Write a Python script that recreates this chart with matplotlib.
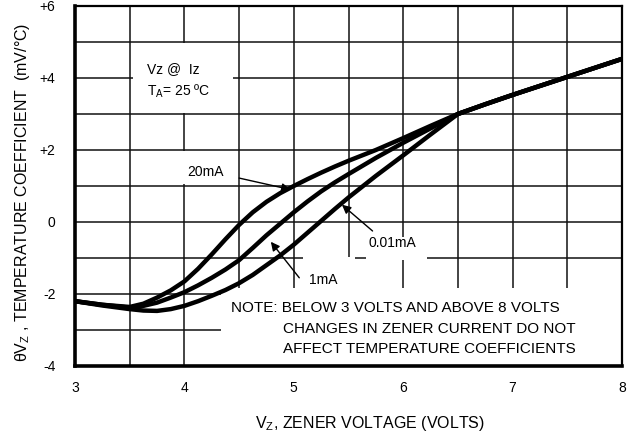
import matplotlib
matplotlib.use("Agg")
import matplotlib.pyplot as plt
from matplotlib.patches import Rectangle
from matplotlib.ticker import MultipleLocator

plt.rcParams['font.family'] = ['Liberation Sans', 'DejaVu Sans']
plt.rcParams['mathtext.fontset'] = 'custom'
plt.rcParams['mathtext.rm'] = 'Liberation Sans'

# zener voltage (V)
vz = [3.0, 3.25, 3.5, 3.625, 3.75, 3.875, 4.0, 4.125, 4.25, 4.375, 4.5, 4.625,
      4.75, 4.875, 5.0, 5.125, 5.25, 5.375, 5.5, 5.75, 6.0, 6.25, 6.5,
      6.75, 7.0, 7.25, 7.5, 7.75, 8.0]

# temperature coefficient (mV/°C) for each zener current
tc_20ma = [-2.2, -2.3, -2.36, -2.27, -2.1, -1.9, -1.65, -1.3, -0.9, -0.48, -0.08, 0.27,
           0.56, 0.8, 1.0, 1.19, 1.37, 1.54, 1.7, 2.0, 2.33, 2.67, 3.0,
           3.27, 3.53, 3.78, 4.03, 4.28, 4.53]
tc_1ma = [-2.2, -2.3, -2.38, -2.33, -2.24, -2.1, -1.95, -1.76, -1.55, -1.32, -1.06, -0.72,
          -0.37, -0.05, 0.27, 0.57, 0.85, 1.1, 1.33, 1.78, 2.2, 2.6, 3.0,
          3.27, 3.53, 3.78, 4.03, 4.28, 4.53]
tc_001ma = [-2.2, -2.32, -2.42, -2.46, -2.47, -2.42, -2.33, -2.2, -2.05, -1.89, -1.7, -1.47,
            -1.2, -0.93, -0.63, -0.3, 0.03, 0.36, 0.68, 1.28, 1.85, 2.43, 3.0,
            3.27, 3.53, 3.78, 4.03, 4.28, 4.53]

xticks = [3, 4, 5, 6, 7, 8]
yticks = [-4, -2, 0, 2, 4, 6]
ytick_labels = ['-4', '-2', '0', '+2', '+4', '+6']

fig = plt.figure(figsize=(6.31, 4.37), dpi=100)
ax = fig.add_axes([0.1189, 0.1625, 0.8668, 0.8238])

ax.set_xlim(3, 8)
ax.set_ylim(-4, 6)
ax.xaxis.set_minor_locator(MultipleLocator(0.5))
ax.yaxis.set_minor_locator(MultipleLocator(1))
ax.set_xticks(xticks)
ax.set_yticks(yticks)
ax.set_yticklabels(ytick_labels)
ax.tick_params(which='both', length=0)
ax.tick_params(axis='x', pad=11, labelsize=10)
ax.tick_params(axis='y', pad=14, labelsize=10)
ax.set_axisbelow(True)
ax.grid(which='both', color='#111111', lw=1.1)

for side in ['left', 'bottom']:
    ax.spines[side].set_linewidth(2.6)
for side in ['top', 'right']:
    ax.spines[side].set_linewidth(1.6)

# white areas behind the labels (grid is broken there)
masks = [(3.53, 3.04, 0.91, 1.92),
         (3.97, 1.05, 0.47, 0.92),
         (5.66, -1.06, 0.56, 0.64),
         (5.08, -1.84, 0.48, 0.86),
         (4.33, -3.98, 3.66, 2.15)]
for x0, y0, w, h in masks:
    ax.add_patch(Rectangle((x0, y0), w, h, facecolor='white', edgecolor='none', zorder=1.5))

for tc in [tc_20ma, tc_1ma, tc_001ma]:
    ax.plot(vz, tc, color='black', lw=3.2, solid_capstyle='round',
            solid_joinstyle='round', zorder=3)

arrow = dict(arrowstyle='-|>', color='black', lw=1.0, mutation_scale=13, shrinkA=0, shrinkB=0)
ax.text(4.03, 1.39, '20mA', fontsize=10, va='center', ha='left', zorder=4)
ax.annotate('', xy=(4.97, 0.9), xytext=(4.5, 1.22), arrowprops=arrow, zorder=4)
ax.text(5.68, -0.58, '0.01mA', fontsize=10, va='center', ha='left', zorder=4)
ax.annotate('', xy=(5.44, 0.48), xytext=(5.72, -0.25), arrowprops=arrow, zorder=4)
ax.text(5.14, -1.6, '1mA', fontsize=10, va='center', ha='left', zorder=4)
ax.annotate('', xy=(4.79, -0.55), xytext=(5.05, -1.55), arrowprops=arrow, zorder=4)

ax.text(3.66, 4.25, 'Vz @  Iz', fontsize=10, va='center', ha='left', zorder=4)
ax.text(3.66, 3.64, r'T$\mathregular{_A}$= 25 ºC', fontsize=10, va='center', ha='left', zorder=4)

ax.text(4.43, -2.4, 'NOTE: BELOW 3 VOLTS AND ABOVE 8 VOLTS', fontsize=11,
        va='center', ha='left', zorder=4)
ax.text(4.9, -2.98, 'CHANGES IN ZENER CURRENT DO NOT', fontsize=11,
        va='center', ha='left', zorder=4)
ax.text(4.9, -3.53, 'AFFECT TEMPERATURE COEFFICIENTS', fontsize=11,
        va='center', ha='left', zorder=4)

fig.text(0.586, 0.032, r'$\mathregular{V_Z}$, ZENER VOLTAGE (VOLTS)', fontsize=11.5,
         ha='center', va='center')
fig.text(0.035, 0.56, r'$\mathregular{θV_Z}$ , TEMPERATURE COEFFICIENT  (mV/°C)',
         fontsize=11.5, rotation=90, ha='center', va='center')

fig.savefig('out.png', dpi=100)
